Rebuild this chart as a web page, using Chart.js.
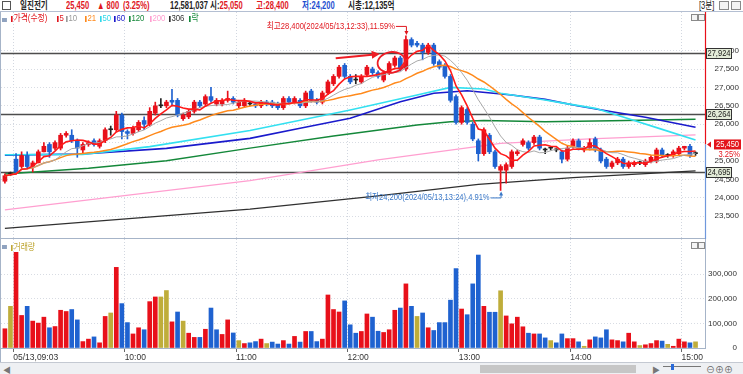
<!DOCTYPE html>
<html>
<head>
<meta charset="utf-8">
<script src="https://cdn.jsdelivr.net/npm/chart.js@4.4.1/dist/chart.umd.min.js"></script>
<style>
  body { margin: 0; width: 743px; height: 374px; overflow: hidden; background: #fff; position: relative;
         font-family: "Liberation Sans", "Noto Sans CJK KR", sans-serif; }
  #hdr { position: absolute; left: 0; top: 0; width: 743px; height: 11px; border-bottom: 1px solid #b4bfd2; background: #fff; }
  #hdr span { position: absolute; top: 0; line-height: 11px; font-size: 10.5px; font-weight: bold; color: #222; white-space: nowrap;
              transform: scaleX(0.72); transform-origin: 0 50%; }
  .r { color: #e0161e !important; }
  .b { color: #1f4fd0 !important; }
  .box { position: absolute; border: 1px solid #8a8a8a; background: #f4f4f4; }
  canvas { position: absolute; left: 0; }
  #price { top: 12px; }
  #vol { top: 239px; }
  .frameL { position: absolute; left: 0; top: 12px; width: 1px; height: 350px; background: #a6b4c8; }
  .sep { position: absolute; left: 0; top: 238px; width: 705px; height: 1px; background: #a6b4c8; }
  .leg { position: absolute; top: 13px; height: 10px; line-height: 10px; font-size: 9.5px; white-space: nowrap;
         transform: scaleX(0.82); transform-origin: 0 50%; }
  .leg i { display: inline-block; width: 2px; height: 6px; margin-right: 1px; vertical-align: -0.5px; }
  #bot { position: absolute; left: 0; top: 362px; width: 743px; height: 12px; background: #eef0f3; border-top: 1px solid #c4c9d2; }
</style>
</head>
<body>
<div id="hdr">
  <div class="box" style="left:2px;top:1px;width:7px;height:7px;background:#fff;border-color:#555"></div>
  <span style="left:20px">일진전기</span>
  <span class="r" style="left:66px">25,450</span>
  <span class="r" style="left:97px">▲ 800</span>
  <span class="r" style="left:123px">(3.25%)</span>
  <span style="left:170px">12,581,037</span>
  <span style="left:210px">시:<b class="r">25,050</b></span>
  <span class="r" style="left:256px">고:28,400</span>
  <span class="b" style="left:302px">저:24,200</span>
  <span style="left:348px">시총:12,135억</span>
  <span style="left:699px;font-weight:normal">[3분]</span>
  <div class="box" style="left:719px;top:1px;width:8px;height:7px"></div>
  <div class="box" style="left:731px;top:1px;width:8px;height:7px"></div>
</div>

<canvas id="price" width="743" height="227"></canvas>
<canvas id="vol" width="743" height="123"></canvas>
<div class="frameL"></div>
<div class="sep"></div>

<div class="leg" style="left:2px"><i style="width:6px;height:4px;background:#8fa2bf"></i></div>
<div class="leg" style="left:11px;color:#e0161e"><i style="background:#e0161e"></i>가격(수정)</div>
<div class="leg" style="left:57px;color:#e0161e"><i style="background:#e0161e"></i>5</div>
<div class="leg" style="left:66px;color:#999"><i style="background:#999"></i>10</div>
<div class="leg" style="left:85px;color:#ff8a1c"><i style="background:#ff8a1c"></i>21</div>
<div class="leg" style="left:100px;color:#2fd8ea"><i style="background:#2fd8ea"></i>50</div>
<div class="leg" style="left:114px;color:#1a1acc"><i style="background:#1a1acc"></i>60</div>
<div class="leg" style="left:129px;color:#14883a"><i style="background:#14883a"></i>120</div>
<div class="leg" style="left:150px;color:#ff9fd0"><i style="background:#ff9fd0"></i>200</div>
<div class="leg" style="left:169px;color:#303030"><i style="background:#303030"></i>306</div>
<div class="leg" style="left:189px;color:#14883a"><i style="background:#14883a"></i>락</div>
<div class="box" style="left:691px;top:14px;width:5px;height:5px"></div>
<div class="box" style="left:698px;top:14px;width:5px;height:5px"></div>

<div class="leg" style="left:2px;top:240px"><i style="width:6px;height:4px;background:#8fa2bf"></i></div>
<div class="leg" style="left:11px;top:242px;color:#c0a838"><i style="background:#c0a838"></i>거래량</div>
<div class="box" style="left:691px;top:242px;width:5px;height:5px"></div>
<div class="box" style="left:698px;top:242px;width:5px;height:5px"></div>

<div id="bot">
  <div style="position:absolute;left:3px;top:1px;font-size:8px;color:#777">◀</div>
  <div style="position:absolute;left:480px;top:2px;width:156px;height:8px;background:#c6c6c6"></div>
  <div style="position:absolute;left:652px;top:1px;font-size:8px;color:#777">▶</div>
  <div style="position:absolute;left:663px;top:3px;width:38px;height:1px;background:#777"></div>
  <div style="position:absolute;left:671px;top:1px;width:3px;height:6px;background:#2a6ad8"></div>
  <div style="position:absolute;left:706px;top:0px;font-size:9px;color:#666">⊖⊕⊕</div>
</div>

<script>
// 3-minute bars, 05/13
const opens = [24450,24650,25050,24850,25150,24850,24950,25250,25450,25350,25350,25700,25700,25550,25300,25450,25550,25400,25550,25850,
  25850,26250,25800,25750,25850,26100,26000,26300,26500,26500,26650,26650,26150,26200,26350,26600,26550,26750,26550,26550,
  26650,26700,26500,26500,26550,26550,26500,26600,26600,26550,26450,26700,26600,26650,26500,26900,26650,26600,26850,27100,
  27300,27600,27300,27200,27150,27350,27500,27400,27200,27400,27600,27800,27500,28300,28200,28150,27950,28150,27700,27600,
  27300,26750,26050,26400,26000,25550,25200,25700,25250,24750,24750,24850,25200,25450,25500,25500,25650,25300,25350,25300,
  25250,25050,25400,25550,25300,25350,25600,25300,25050,24850,24950,25050,24850,24900,24950,24900,25000,25000,25300,25150,
  25150,25200,25350,25400,25200];
const highs = [24650,24700,25200,25250,25250,25000,25300,25500,25500,25550,25750,25800,25850,25600,25500,25550,25600,25600,25900,25950,
  26350,26300,25850,25950,26100,26200,26450,26600,26700,26650,26950,26700,26300,26400,26650,26650,26800,27000,26700,26700,
  26900,26750,26650,26700,26600,26600,26650,26650,26650,26600,26750,26750,26750,26700,26900,26950,26700,26900,27200,27350,
  27600,27650,27350,27350,27350,27600,27550,27450,27450,27700,27850,27850,28400,28350,28250,28200,28200,28200,27750,27650,
  27350,26800,26500,26450,26050,25600,25900,25750,25300,24900,24950,25300,25300,25600,25550,25700,25700,25350,25400,25350,
  25300,25400,25600,25600,25400,25600,25650,25350,25100,25000,25100,25100,25000,25000,25000,25050,25150,25350,25350,25200,
  25300,25400,25400,25450,25250];
const lows = [24400,24600,24650,24800,24800,24700,24950,25250,25100,25300,25300,25650,25500,25100,25200,25400,25400,25350,25500,25700,
  25800,25600,25600,25700,25800,25850,25950,26250,26450,26450,26500,26200,26100,26150,26300,26450,26500,26600,26500,26500,
  26600,26550,26450,26450,26500,26450,26450,26500,26450,26400,26400,26550,26550,26450,26450,26600,26550,26550,26800,27050,
  27250,27250,27100,27100,27100,27300,27350,27250,27150,27350,27550,27450,27450,28100,28100,27750,27900,27600,27500,27250,
  26600,26000,26000,26000,25550,25000,25150,25200,24800,24200,24400,24800,25150,25400,25300,25450,25300,25200,25300,25250,
  24950,25000,25350,25300,25250,25300,25250,24950,24800,24800,24900,24800,24800,24850,24900,24850,24950,24950,25100,25100,
  25100,25150,25300,25100,25150];
const closes = [24600,24650,24700,25150,24850,24950,25250,25400,25250,25500,25700,25750,25550,25350,25450,25500,25450,25550,25850,25850,
  26250,25800,25750,25900,26050,26000,26350,26500,26500,26600,26600,26250,26250,26350,26600,26500,26750,26650,26650,26650,
  26700,26600,26600,26650,26550,26500,26600,26550,26500,26450,26700,26600,26700,26500,26850,26650,26600,26850,27150,27300,
  27550,27300,27150,27200,27300,27550,27400,27300,27400,27650,27800,27500,28300,28150,28150,27950,28150,27650,27550,27300,
  26650,26050,26450,26050,25600,25200,25850,25250,24850,24850,24900,25250,25250,25550,25350,25650,25350,25300,25350,25300,
  25050,25350,25550,25350,25350,25500,25300,25000,24850,24950,25050,24850,24950,24950,24950,25000,25100,25300,25150,25150,
  25250,25350,25400,25150,25200];
const volumes = [78000,169000,388000,132000,169000,109000,101000,125000,82000,87000,153000,148000,156000,114000,26000,36000,45000,21000,128000,142000,
  327000,180000,103000,57000,82000,74000,188000,207000,207000,233000,106000,146000,109000,60000,43000,43000,76000,162000,74000,55000,
  114000,61000,30000,18000,21000,26000,36000,18000,24000,16000,30000,16000,47000,24000,67000,67000,26000,36000,215000,156000,
  146000,191000,94000,60000,67000,138000,125000,68000,63000,74000,153000,162000,260000,169000,128000,142000,82000,71000,103000,103000,
  194000,322000,158000,135000,260000,377000,169000,145000,145000,232000,130000,98000,125000,86000,60000,57000,57000,41000,30000,21000,
  57000,38000,38000,25000,7000,33000,45000,41000,74000,33000,30000,25000,60000,25000,10000,13000,18000,30000,28000,15000,
  7000,36000,25000,21000,25000];
// r = up vs previous close, b = down, g = unchanged
const volKinds = ('rgrrbrrrbrrrbbrrbrrgrbbrrbrrggrbgrrbrbbrrbgrbbrgbbrbrbrbbrrrrbbbrrbbrrrbrbgbrbbbbbrbbbrbbgrrrrbrbbgbbrrbgrbbbrrbrrgrrrbgrrrbg').split('');

// moving averages (they need earlier days' data)
const ma50 = [[0,25170],[14,25180],[26,25390],[44,25830],[62,26386],[74,26793],[80,27000],[86,26956],[89,26840],[97,26658],[100,26580],[106,26431],[112,26150],[118,25860],[124,25570]];
const ma60 = [[0,25160],[14,25190],[29,25344],[44,25616],[53,25888],[62,26160],[71,26612],[77,26840],[83,26911],[91,26793],[97,26676],[103,26495],[109,26340],[115,26187],[124,25915]];
const ma120 = [[0,24650],[15,24800],[29,25009],[44,25350],[59,25679],[74,25978],[80,26069],[86,26100],[97,26069],[109,26096],[124,26132]];
const ma200 = [[0,23670],[44,24465],[67,25030],[89,25480],[105,25600],[124,25710]];
const ma306 = [[0,23170],[44,23690],[67,24050],[85,24367],[102,24550],[124,24730]];

const levels = [27924, 26264, 24695];
const lastPrice = 25450;
const lastChange = '3.25%';
const dayHigh = { bar: 72, price: 28400, text: '최고28,400(2024/05/13,12:33),11.59%' };
const dayLow = { bar: 89, price: 24200, text: '최저24,200(2024/05/13,13:24),4.91%' };

const priceTicks = [23500, 24000, 24500, 25000, 25500, 26000, 26500, 27000, 27500, 28000];
const volTicks = [0, 100000, 200000, 300000];
const tickBars = [1, 21, 41, 61, 81, 101, 121];
const tickLabels = ['05/13,09:03', '10:00', '11:00', '12:00', '13:00', '14:00', '15:00'];

const UP = '#e8101a', DN = '#1f62d0', EQ = '#222', GOLD = '#bfad3a';
const AXIS_FONT = { family: "'Liberation Sans',sans-serif", size: 8 };
const SQUEEZE = 0.84;

const idx = closes.map((_, i) => i);
const candleColor = idx.map(i => closes[i] > opens[i] ? UP : closes[i] < opens[i] ? DN : EQ);
const pts = arr => arr.map(p => ({ x: p[0], y: p[1] }));

function sma(p) {
    return idx.map(i => {
        const s = Math.max(0, i - p + 1);
        let t = 0;
        for (let k = s; k <= i; k++) t += closes[k];
        return { x: i, y: t / (i - s + 1) };
    });
}

function line(data, color, width, order) {
    return { type: 'line', data: data, borderColor: color, borderWidth: width, pointRadius: 0, tension: 0, order: order };
}

// narrow text like the HTS bitmap font
function squeezeText(ctx, text, x, y, align, maxW) {
    const w = ctx.measureText(text).width;
    const s = maxW ? Math.min(SQUEEZE, maxW / w) : SQUEEZE;
    ctx.save();
    ctx.translate(x, y);
    ctx.scale(s, 1);
    ctx.textAlign = align;
    ctx.fillText(text, 0, 0);
    ctx.restore();
    return w * s;
}

const xScale = {
    type: 'linear',
    offset: false,
    min: -0.7,
    max: 125.7,
    afterBuildTicks: s => { s.ticks = tickBars.map(b => ({ value: b + 0.5 })); },
    grid: { color: '#d2d7e0', drawTicks: false, offset: false },
    border: { display: false, dash: [1, 2] },
    ticks: { display: false }
};

function arrowHead(ctx, x, y, dir, size) {
    ctx.beginPath();
    ctx.moveTo(x, y);
    ctx.lineTo(x - size / 2, y - dir * size);
    ctx.lineTo(x + size / 2, y - dir * size);
    ctx.closePath();
    ctx.fill();
}

const priceDeco = {
    id: 'priceDeco',
    beforeDatasetsDraw(chart) {
        const { ctx, chartArea: a, scales: { y } } = chart;
        ctx.save();
        ctx.strokeStyle = '#4d4d4d';
        ctx.lineWidth = 1.4;
        levels.forEach(v => {
            const yy = Math.round(y.getPixelForValue(v)) + 0.5;
            ctx.beginPath(); ctx.moveTo(a.left, yy); ctx.lineTo(a.right, yy); ctx.stroke();
        });
        ctx.restore();
    },
    afterDraw(chart) {
        const { ctx, chartArea: a, scales: { x, y } } = chart;
        ctx.save();
        // price axis line: red above the last price, blue below
        const ly = y.getPixelForValue(lastPrice);
        ctx.lineWidth = 1.2;
        ctx.strokeStyle = '#e8101a';
        ctx.beginPath(); ctx.moveTo(a.right + 0.5, a.top); ctx.lineTo(a.right + 0.5, ly); ctx.stroke();
        ctx.strokeStyle = '#6f98dc';
        ctx.beginPath(); ctx.moveTo(a.right + 0.5, ly); ctx.lineTo(a.right + 0.5, a.bottom); ctx.stroke();

        ctx.font = "9px 'Liberation Sans',sans-serif";
        ctx.textBaseline = 'middle';
        levels.forEach(v => {
            const yy = Math.round(y.getPixelForValue(v));
            ctx.fillStyle = '#e4ecd9';
            ctx.fillRect(a.right + 1, yy - 5, 25, 10);
            ctx.strokeStyle = '#333';
            ctx.lineWidth = 1;
            ctx.strokeRect(a.right + 1.5, yy - 4.5, 25, 10);
            ctx.fillStyle = '#1a1a1a';
            squeezeText(ctx, v.toLocaleString('en-US'), a.right + 14, yy + 0.5, 'center', 23);
        });

        // last price tag
        ctx.fillStyle = '#e3141c';
        ctx.beginPath(); ctx.moveTo(a.right + 2, ly); ctx.lineTo(a.right + 6, ly - 3); ctx.lineTo(a.right + 6, ly + 3); ctx.fill();
        ctx.fillRect(a.right + 9, ly - 5, 27, 10);
        ctx.fillStyle = '#fff';
        squeezeText(ctx, lastPrice.toLocaleString('en-US'), a.right + 22.5, ly + 0.5, 'center', 25);
        ctx.fillStyle = '#e3141c';
        squeezeText(ctx, lastChange, a.right + 35, ly + 10, 'right');

        // high / low notes
        ctx.font = "9px 'Liberation Sans','Noto Sans CJK KR',sans-serif";
        const hx = x.getPixelForValue(dayHigh.bar), hy = y.getPixelForValue(dayHigh.price);
        ctx.fillStyle = '#e0161e'; ctx.strokeStyle = '#e0161e'; ctx.lineWidth = 1;
        squeezeText(ctx, dayHigh.text, hx - 11, hy - 9, 'right');
        ctx.beginPath(); ctx.moveTo(hx - 10, hy - 9.5); ctx.lineTo(hx + 0.5, hy - 9.5); ctx.lineTo(hx + 0.5, hy - 3); ctx.stroke();
        arrowHead(ctx, hx + 0.5, hy - 1, 1, 4);

        const lx = x.getPixelForValue(dayLow.bar), lyy = y.getPixelForValue(dayLow.price);
        ctx.fillStyle = '#3a78c8'; ctx.strokeStyle = '#3a78c8';
        squeezeText(ctx, dayLow.text, lx - 11, lyy + 7, 'right');
        ctx.beginPath(); ctx.moveTo(lx - 10, lyy + 7.5); ctx.lineTo(lx + 0.5, lyy + 7.5); ctx.lineTo(lx + 0.5, lyy + 3); ctx.stroke();
        arrowHead(ctx, lx + 0.5, lyy + 1, -1, 4);

        // hand-drawn red arrow and circle
        const bw = x.getPixelForValue(1) - x.getPixelForValue(0);
        const ex = x.getPixelForValue(69.4), ey = y.getPixelForValue(27680);
        const ry = y.getPixelForValue(27400) - y.getPixelForValue(27680);
        ctx.strokeStyle = '#ee1c24'; ctx.fillStyle = '#ee1c24'; ctx.lineWidth = 1.8;
        ctx.beginPath(); ctx.ellipse(ex, ey, 2.5 * bw, ry, -0.15, 0, Math.PI * 2); ctx.stroke();
        const ax0 = x.getPixelForValue(59.4), ay0 = y.getPixelForValue(27790);
        const ax1 = x.getPixelForValue(67.3), ay1 = y.getPixelForValue(27910);
        ctx.lineWidth = 2;
        ctx.beginPath(); ctx.moveTo(ax0, ay0); ctx.lineTo(ax1 - 5, ay1 + 0.5); ctx.stroke();
        const ang = Math.atan2(ay1 - ay0, ax1 - ax0);
        ctx.beginPath();
        ctx.moveTo(ax1, ay1);
        ctx.lineTo(ax1 - 8 * Math.cos(ang) + 4 * Math.sin(ang), ay1 - 8 * Math.sin(ang) - 4 * Math.cos(ang));
        ctx.lineTo(ax1 - 8 * Math.cos(ang) - 4 * Math.sin(ang), ay1 - 8 * Math.sin(ang) + 4 * Math.cos(ang));
        ctx.closePath(); ctx.fill();
        ctx.restore();
    }
};

new Chart(document.getElementById('price'), {
    type: 'bar',
    data: {
        datasets: [
            line(pts(ma306), '#303030', 1.3, 12),
            line(pts(ma200), '#ff9fd0', 1.2, 11),
            line(pts(ma120), '#14883a', 1.5, 10),
            line(pts(ma60), '#1a1acc', 1.6, 9),
            line(pts(ma50), '#33e0f0', 1.6, 8),
            { type: 'bar', data: idx.map(i => ({ x: i, y: [lows[i], highs[i]] })), backgroundColor: candleColor, barThickness: 1, grouped: false, order: 6 },
            { type: 'bar', data: idx.map(i => ({ x: i, y: [opens[i], closes[i]] })), backgroundColor: candleColor, barThickness: 4, minBarLength: 1, grouped: false, order: 5 },
            line(sma(21), '#ff8a1c', 1.5, 3),
            line(sma(10), '#a8a8a8', 1, 2),
            line(sma(5), '#ff1a1a', 1.6, 1)
        ]
    },
    options: {
        responsive: false,
        animation: false,
        devicePixelRatio: 1,
        events: [],
        layout: { padding: { left: 1, right: 4, top: 0, bottom: 0 } },
        plugins: { legend: { display: false }, tooltip: { enabled: false } },
        scales: {
            x: xScale,
            y: {
                position: 'right',
                min: 22880,
                max: 29050,
                afterBuildTicks: s => { s.ticks = priceTicks.map(v => ({ value: v })); },
                afterFit: s => { s.width = 34; s.paddingTop = 0; s.paddingBottom = 0; },
                ticks: { crossAlign: 'far', padding: 10, color: '#333', font: AXIS_FONT,
                         callback: v => v.toLocaleString('en-US') },
                grid: { color: '#d8dce3', drawTicks: false },
                border: { display: false, dash: [1, 2] }
            }
        }
    },
    plugins: [priceDeco]
});

const volDeco = {
    id: 'volDeco',
    afterDraw(chart) {
        const { ctx, chartArea: a } = chart;
        ctx.save();
        ctx.strokeStyle = '#a6b4c8';
        ctx.beginPath(); ctx.moveTo(a.right + 0.5, 0); ctx.lineTo(a.right + 0.5, a.bottom); ctx.stroke();
        ctx.restore();
    }
};

new Chart(document.getElementById('vol'), {
    type: 'bar',
    data: {
        datasets: [{
            data: idx.map(i => ({ x: i, y: volumes[i] })),
            backgroundColor: volKinds.map(k => ({ r: UP, b: DN, g: GOLD })[k]),
            barThickness: 4
        }]
    },
    options: {
        responsive: false,
        animation: false,
        devicePixelRatio: 1,
        events: [],
        layout: { padding: { left: 1, right: 6, top: 0, bottom: 0 } },
        plugins: { legend: { display: false }, tooltip: { enabled: false } },
        scales: {
            x: Object.assign({}, xScale, {
                afterFit: s => { s.height = 14; s.paddingLeft = 0; s.paddingRight = 0; },
                grid: { color: '#d2d7e0', tickLength: 4, tickColor: '#666', offset: false },
                border: { display: true, color: '#a6b4c8', dash: [1, 2] },
                ticks: { display: true, align: 'start', padding: 1, maxRotation: 0, autoSkip: false, color: '#333',
                         font: { family: "'Liberation Sans',sans-serif", size: 8.5 }, callback: (v, i) => tickLabels[i] }
            }),
            y: {
                position: 'right',
                min: 0,
                max: 442000,
                afterBuildTicks: s => { s.ticks = volTicks.map(v => ({ value: v })); },
                afterFit: s => { s.width = 32; s.paddingTop = 0; s.paddingBottom = 0; },
                ticks: { crossAlign: 'far', padding: 3, color: '#333', font: AXIS_FONT,
                         callback: v => v.toLocaleString('en-US') },
                grid: { color: '#d8dce3', drawTicks: false },
                border: { display: false, dash: [1, 2] }
            }
        }
    },
    plugins: [volDeco]
});
</script>
</body>
</html>
